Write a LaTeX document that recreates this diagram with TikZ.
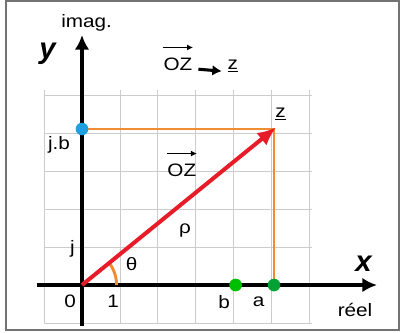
\documentclass[tikz,border=0pt]{standalone}
\usepackage{fontspec}
\setmainfont[FakeStretch=1.15]{Liberation Sans}
\newfontfamily\axfont{Liberation Sans}
\usetikzlibrary{arrows.meta}

\definecolor{vecred}{RGB}{232,28,40}
\definecolor{projorange}{RGB}{240,140,50}
\definecolor{dotblue}{RGB}{30,160,225}

\begin{document}
\begin{tikzpicture}[
  x=28.8pt,y=29.25pt,
  font=\fontsize{13.5}{15}\selectfont,
  >=Latex,
  axis/.style={line width=3pt,-{Latex[length=11pt,width=11pt]}},
  vecarrow/.style={line width=0.9pt,-{Latex[length=4.5pt,width=4.5pt]}},
  proj/.style={draw=projorange,line width=0.8pt},
  dot/.style={circle,inner sep=0pt,minimum size=9.5pt},
  axname/.style={font=\axfont\fontsize{22}{24}\selectfont\bfseries\itshape}
]
\useasboundingbox (-2.135,-1.205) rectangle (8.385,7.308);
\draw[gray!90!black,line width=1pt] (-1.98,-1.15) rectangle (8.255,7.28);

% grid
\draw[gray!40,line width=0.6pt] (-1,-1) grid (6,5);

% coordinates
\coordinate (O) at (0,0);
\coordinate (Z) at (5,4);
\coordinate (A) at (5,0);
\coordinate (B) at (4,0);
\coordinate (JB) at (0,4);

% projections
\draw[proj] (JB) -- (Z) -- (A);

% axes
\coordinate (xs) at (-1.17,0);
\coordinate (xe) at (7.68,0);
\coordinate (ys) at (0,-1.05);
\coordinate (ye) at (0,6.41);
\draw[axis] (xs) -- (xe);
\draw[axis] (ys) -- (ye);

% angle
\draw[projorange,line width=2.2pt] (0.9,0) arc (0:38.7:0.9 and 0.92);

% vector
\draw[vecred,line width=3pt,-{Latex[length=14pt,width=12pt]},shorten >=-2pt] (O) -- (Z);

% dots
\node[dot,fill=dotblue] (jbdot) at (JB) {};
\node[dot,fill=green!75!black] (bdot) at (B) {};
\node[dot,fill=green!55!black!80!cyan] (adot) at (A) {};

% labels
\node (imag) at (0.12,6.72) {imag.};
\node[axname] (ylab) at (-0.9,5.92) {y};
\node[axname] (xlab) at (7.33,0.54) {x};
\node (reel) at (7.11,-0.63) {réel};
\node (ozA) at (2.5,5.67) {OZ};
\node (zu) at (3.93,5.62) {\underline{z}};
\draw[line width=2.3pt,-{Latex[length=7pt,width=8pt]}] ([xshift=1pt,yshift=-4pt]ozA.east) -- ([xshift=-1pt,yshift=-4pt]zu.west);
\draw[vecarrow] ([xshift=3pt,yshift=4pt]ozA.north west) -- ([xshift=-3pt,yshift=4pt]ozA.north east);
\node (zlab) at (5.17,4.38) {\underline{z}};
\node (jblab) at (-0.6,3.59) {j.b};
\node (ozB) at (2.6,2.95) {OZ};
\draw[vecarrow] ([xshift=3pt,yshift=4pt]ozB.north west) -- ([xshift=-3pt,yshift=4pt]ozB.north east);
\node (rho) at (2.68,1.4) {ρ};
\node (jlab) at (-0.25,0.92) {j};
\node (theta) at (1.29,0.53) {θ};
\node (zero) at (-0.31,-0.42) {0};
\node (one) at (0.81,-0.42) {1};
\node (blab) at (3.7,-0.44) {b};
\node (alab) at (4.6,-0.44) {a};
\end{tikzpicture}
\end{document}
